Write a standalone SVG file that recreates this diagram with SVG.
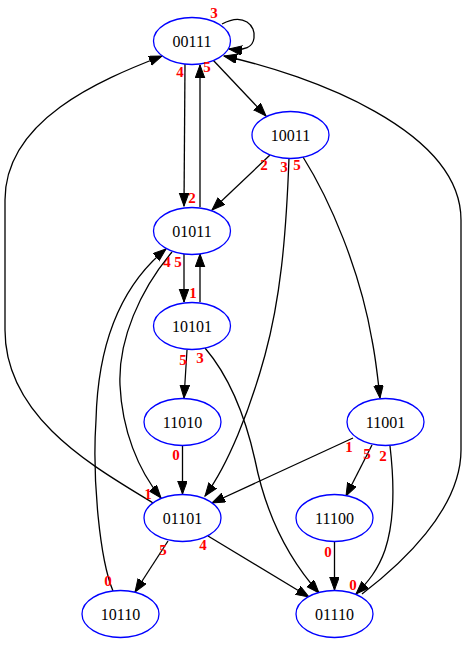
<svg xmlns="http://www.w3.org/2000/svg" width="467" height="645" viewBox="0 0 467 645">
<style>
.node ellipse{fill:#fff;stroke:#0000ff;stroke-width:1.3}
.node text{font-family:"Liberation Serif",serif;font-size:16px;text-anchor:middle;fill:#000}
.edges path{fill:none;stroke:#000;stroke-width:1.3;marker-end:url(#ah)}
.lbl{font-family:"Liberation Serif",serif;font-size:15px;font-weight:bold;fill:#ff0000;text-anchor:middle}
</style>
<defs>
<marker id="ah" markerWidth="14" markerHeight="11" refX="13" refY="4.8" orient="auto" markerUnits="userSpaceOnUse"><path d="M0,0 L13,4.8 L0,9.6 z" fill="#000" stroke="#000" stroke-width="1"/></marker>
</defs>
<rect width="467" height="645" fill="#fff"/>
<g class="edges">
<path d="M222,24 C244,12 256,26 254,38 C253,47 245,51 229,49"/>
<path d="M185,64 L184,206"/>
<path d="M200,207 L200,65"/>
<path d="M213,60 L266,116"/>
<path d="M270,155 L212,210"/>
<path d="M289,158 C286,240 280,300 265,355 C250,410 228,465 205,496"/>
<path d="M303,157 C330,200 360,270 372,340 C376,360 378,380 380,398"/>
<path d="M172,252 C140,290 118,340 120,385 C122,430 138,470 161,498"/>
<path d="M113,591 C100,560 92,480 96,420 C98,340 122,285 166,249"/>
<path d="M153,503 C100,470 5,420 5,330 L5,200 C5,120 100,80 162,56"/>
<path d="M184,254 L184,302"/>
<path d="M200,302 L200,254"/>
<path d="M187,350 L184,398"/>
<path d="M205,348 C228,375 245,415 255,460 C265,510 285,555 319,593"/>
<path d="M182.5,446 L182.5,494"/>
<path d="M353,438 L212,503"/>
<path d="M372,445 L346,496"/>
<path d="M390,446 C394,480 395,520 385,550 C378,570 368,582 356,594"/>
<path d="M334.5,542 L334.5,590"/>
<path d="M362,594 C400,565 461,510 461,450 L461,220 C461,130 310,75 224,56"/>
<path d="M208,536 L309,597"/>
<path d="M168,541 L135,592"/>
</g>
<g id="n00111" class="node"><ellipse cx="192" cy="41" rx="38.5" ry="23.5"/><text x="192" y="46.5">00111</text></g>
<g id="n10011" class="node"><ellipse cx="290.5" cy="135" rx="38.5" ry="23.5"/><text x="290.5" y="140.5">10011</text></g>
<g id="n01011" class="node"><ellipse cx="192" cy="231" rx="38.5" ry="23.5"/><text x="192" y="236.5">01011</text></g>
<g id="n10101" class="node"><ellipse cx="192" cy="326" rx="38.5" ry="23.5"/><text x="192" y="331.5">10101</text></g>
<g id="n11010" class="node"><ellipse cx="182.5" cy="422" rx="38.5" ry="23.5"/><text x="182.5" y="427.5">11010</text></g>
<g id="n11001" class="node"><ellipse cx="385.5" cy="422" rx="38.5" ry="23.5"/><text x="385.5" y="427.5">11001</text></g>
<g id="n01101" class="node"><ellipse cx="182.5" cy="518" rx="38.5" ry="23.5"/><text x="182.5" y="523.5">01101</text></g>
<g id="n11100" class="node"><ellipse cx="334.5" cy="518" rx="38.5" ry="23.5"/><text x="334.5" y="523.5">11100</text></g>
<g id="n10110" class="node"><ellipse cx="120.5" cy="614" rx="38.5" ry="23.5"/><text x="120.5" y="619.5">10110</text></g>
<g id="n01110" class="node"><ellipse cx="334.5" cy="614" rx="38.5" ry="23.5"/><text x="334.5" y="619.5">01110</text></g>
<g id="labels">
<text class="lbl" x="214" y="18">3</text>
<text class="lbl" x="180" y="77">4</text>
<text class="lbl" x="207" y="72">5</text>
<text class="lbl" x="192" y="203">2</text>
<text class="lbl" x="264" y="170">2</text>
<text class="lbl" x="284" y="172">3</text>
<text class="lbl" x="297" y="170">5</text>
<text class="lbl" x="167" y="267">4</text>
<text class="lbl" x="178" y="267">5</text>
<text class="lbl" x="193" y="298">1</text>
<text class="lbl" x="183" y="365">5</text>
<text class="lbl" x="200" y="363">3</text>
<text class="lbl" x="176" y="460">0</text>
<text class="lbl" x="148" y="499">1</text>
<text class="lbl" x="349" y="452">1</text>
<text class="lbl" x="367" y="459">5</text>
<text class="lbl" x="383" y="461">2</text>
<text class="lbl" x="328" y="557">0</text>
<text class="lbl" x="353" y="590">0</text>
<text class="lbl" x="203" y="550">4</text>
<text class="lbl" x="163" y="555">5</text>
<text class="lbl" x="108" y="586">0</text>
</g>
</svg>
